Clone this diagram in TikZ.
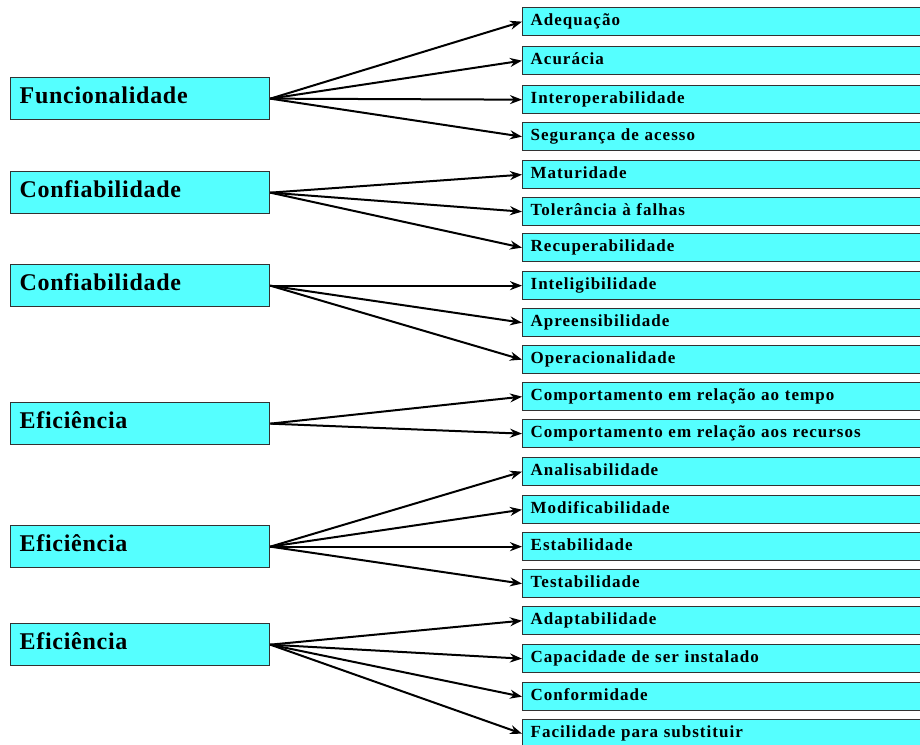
\documentclass[tikz,border=0pt]{standalone}
\usepackage{fontspec}
\setmainfont{Liberation Serif}
\newfontfamily\qualfont[LetterSpace=3]{Liberation Serif}
\newfontfamily\subfont[LetterSpace=6]{Liberation Serif}
\usepackage{tikz}
\usetikzlibrary{arrows.meta}
\definecolor{boxcyan}{RGB}{85,255,255}
\definecolor{boxline}{RGB}{50,50,50}
\tikzstyle{quality}=[draw=boxline,fill=boxcyan,line width=1.3pt,anchor=north west,minimum height=42pt,inner xsep=9pt,inner ysep=0pt,text width=241pt,text depth=7pt,align=left,font=\qualfont\fontsize{24}{28}\selectfont\bfseries]
\tikzstyle{subchar}=[draw=boxline,fill=boxcyan,line width=1.3pt,anchor=north west,minimum height=28pt,inner xsep=8pt,inner ysep=0pt,text width=404pt,text depth=4pt,align=left,font=\subfont\fontsize{17}{20}\selectfont\bfseries]
\tikzstyle{link}=[line width=2pt,-{Stealth[length=12pt,width=9pt]}]

\begin{document}
\begin{tikzpicture}[x=1pt,y=-1pt]
\clip (0,0) rectangle (920,744);
% caracteristicas
\node[quality] (func) at (10,77) {Funcionalidade};
\node[quality] (confA) at (10,171) {Confiabilidade};
\node[quality] (confB) at (10,264) {Confiabilidade};
\node[quality] (eficA) at (10,402) {Eficiência};
\node[quality] (eficB) at (10,525) {Eficiência};
\node[quality] (eficC) at (10,623) {Eficiência};
% subcaracteristicas
\foreach \y/\name/\txt in {7/adeq/Adequação, 46/acur/Acurácia, 85/inter/Interoperabilidade,
    122/seg/Segurança de acesso, 160/mat/Maturidade, 197/toler/Tolerância à falhas,
    233/recup/Recuperabilidade, 271/intel/Inteligibilidade, 308/apre/Apreensibilidade,
    345/oper/Operacionalidade, 382/tempo/Comportamento em relação ao tempo,
    419/recur/Comportamento em relação aos recursos, 457/anal/Analisabilidade,
    495/modif/Modificabilidade, 532/estab/Estabilidade, 569/test/Testabilidade,
    606/adapt/Adaptabilidade, 644/inst/Capacidade de ser instalado,
    682/conf/Conformidade, 719/subst/Facilidade para substituir}
  \node[subchar] (\name) at (522,\y) {\txt};
% ligacoes
\foreach \src/\dst in {func/adeq, func/acur, func/inter, func/seg,
    confA/mat, confA/toler, confA/recup,
    confB/intel, confB/apre, confB/oper,
    eficA/tempo, eficA/recur,
    eficB/anal, eficB/modif, eficB/estab, eficB/test,
    eficC/adapt, eficC/inst, eficC/conf, eficC/subst}
  \draw[link] (\src.east) -- (\dst.west);
\end{tikzpicture}
\end{document}
